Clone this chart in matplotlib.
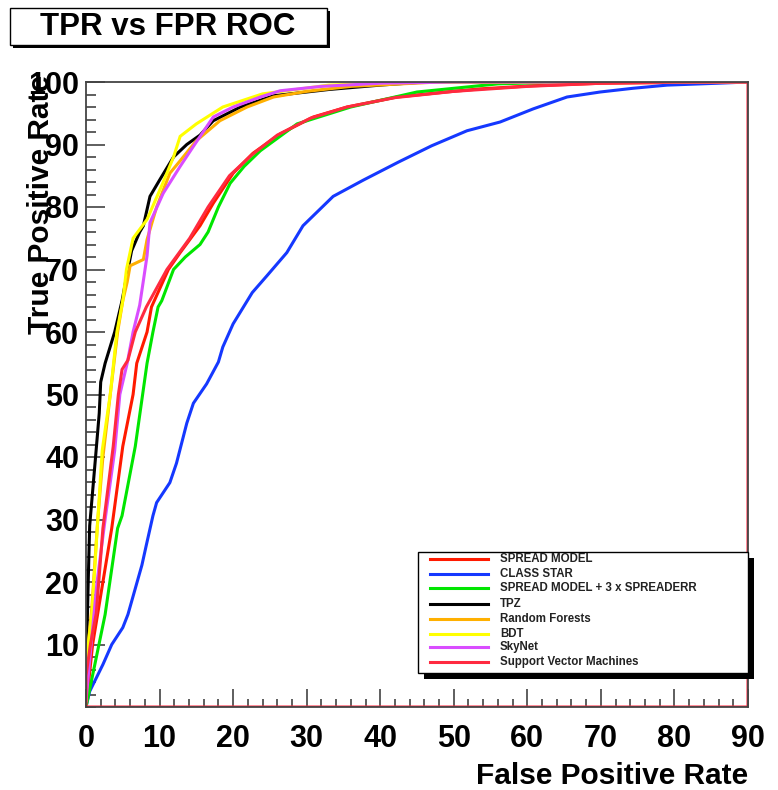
import matplotlib
matplotlib.use("Agg")
import matplotlib.pyplot as plt
from matplotlib import font_manager
from matplotlib.patches import Rectangle
from matplotlib.lines import Line2D
from matplotlib.ticker import MultipleLocator

# ROC curves (FPR, TPR in percent)
spread_fpr = [0, 0.9, 1.6, 3.5, 5.0, 6.4, 6.9, 8.3, 8.9, 11.2, 12.8, 15.5, 17.3, 20.0, 22.7,
              26.4, 30.9, 35.5, 42.3, 49.0, 53.6, 60.8, 70.0, 90]
spread_tpr = [0, 10, 15, 28.6, 41.7, 50, 55, 60, 64, 70, 72.7, 77, 80.6, 85.4, 88.6,
              91.7, 94.4, 96, 97.6, 98.4, 98.9, 99.4, 99.8, 100]

star_fpr = [0, 0.5, 2.3, 3.5, 5.0, 5.7, 7.6, 8.2, 9.1, 9.6, 11.4, 12.3, 13.7, 14.6, 16.4,
            18.0, 18.6, 20.0, 22.6, 24.6, 27.3, 29.5, 33.6, 37.7, 42.5, 47.0, 51.8, 56.3,
            60.8, 65.4, 69.9, 74.4, 79.0, 85.8, 90]
star_tpr = [0, 2.5, 6.8, 10, 12.7, 14.8, 22.7, 25.9, 30.6, 32.7, 35.9, 39, 45.4, 48.6, 51.7,
            55.2, 57.6, 61.3, 66.3, 69, 72.7, 77, 81.7, 84.3, 87.2, 89.8, 92.2, 93.6,
            95.7, 97.6, 98.4, 99.0, 99.5, 99.8, 100]

spreaderr_fpr = [0, 1.2, 2.6, 4.3, 4.9, 6.7, 8.3, 9.1, 9.8, 10.3, 11.9, 13.5, 15.5, 16.6,
                 18.0, 19.6, 21.5, 23.7, 28.7, 36.0, 45.0, 56.0, 65.0, 90]
spreaderr_tpr = [0, 6.8, 14.8, 28.6, 30.6, 41.7, 55, 60, 64, 65, 70, 72, 74, 76,
                 80, 83.8, 86.5, 89, 93.3, 96, 98.4, 99.7, 100, 100]

tpz_fpr = [0, 0.1, 0.3, 0.5, 1.3, 1.8, 2.0, 2.6, 3.9, 4.9, 5.7, 6.2, 7.3, 7.8, 8.7, 10.0,
           11.9, 13.7, 15.5, 17.3, 21.0, 25.5, 33.0, 40.0, 46.0, 90]
tpz_tpr = [1, 10, 20, 29, 40, 47, 52, 55, 60, 65, 70, 73, 76, 77, 81.7, 84.3,
           88, 90, 91.5, 93.8, 96, 97.8, 98.8, 99.5, 100, 100]

rf_fpr = [0, 0.3, 0.8, 1.6, 2.3, 3.3, 4.3, 5.0, 5.6, 6.0, 7.8, 8.3, 9.6, 11.4, 12.8, 15.0,
          18.2, 21.9, 25.5, 30.0, 36.0, 48.0, 90]
rf_tpr = [1, 10, 16, 30, 40, 50, 60, 65, 68, 70.6, 71.6, 74.8, 80, 85.4, 87.4, 90.6,
          93.8, 96, 97.6, 98.5, 99.3, 100, 100]

bdt_fpr = [0, 0.3, 0.8, 1.5, 2.2, 2.8, 3.3, 4.2, 5.0, 5.5, 6.4, 8.3, 10.5, 11.9, 12.8,
           15.0, 18.6, 24.0, 33.0, 45.0, 90]
bdt_tpr = [1, 10, 15, 28, 41, 46, 50, 60, 65, 70, 75, 78, 84, 88, 91.3,
           93.3, 96, 98.1, 99.5, 100, 100]

skynet_fpr = [0, 0.7, 1.5, 2.6, 3.9, 4.6, 5.6, 6.4, 7.3, 7.9, 8.3, 8.7, 10.5, 12.8, 14.6,
              17.3, 20.0, 23.7, 26.4, 32.0, 40.0, 50.0, 90]
skynet_tpr = [1, 10, 20, 30, 41, 50, 55, 60, 64.3, 69, 72.2, 77.5, 82.2, 86.5, 89.7,
              94.4, 96, 97.6, 98.6, 99.3, 99.8, 100, 100]

svm_fpr = [0, 0, 0.6, 1.4, 2.3, 3.7, 4.4, 4.9, 5.7, 6.7, 8.2, 11.0, 14.1, 16.6, 19.5, 22.5,
           26.0, 30.5, 35.5, 42.0, 50.0, 60.0, 70.0, 80.0, 90, 90, 0]
svm_tpr = [0, 5, 10, 15, 28.6, 41.7, 50, 54, 55.5, 60, 64, 70, 75, 80, 85, 88.3,
           91.5, 94.2, 96, 97.5, 98.5, 99.3, 99.8, 100, 100, 0, 0]

labels = ["SPREAD MODEL", "CLASS STAR", "SPREAD MODEL + 3 x SPREADERR", "TPZ",
          "Random Forests", "BDT", "SkyNet", "Support Vector Machines"]
colors = ["#ff1a00", "#1538ff", "#00e600", "#000000",
          "#ffb000", "#ffff00", "#d94dff", "#ff2a40"]
curves = [(spread_fpr, spread_tpr), (star_fpr, star_tpr), (spreaderr_fpr, spreaderr_tpr),
          (tpz_fpr, tpz_tpr), (rf_fpr, rf_tpr), (bdt_fpr, bdt_tpr),
          (skynet_fpr, skynet_tpr), (svm_fpr, svm_tpr)]

x_ticks = [0, 10, 20, 30, 40, 50, 60, 70, 80, 90]
y_ticks = [10, 20, 30, 40, 50, 60, 70, 80, 90, 100]

W, H = 778, 790
names = {f.name for f in font_manager.fontManager.ttflist}
tick_family = "Liberation Sans Narrow" if "Liberation Sans Narrow" in names else "Liberation Sans"
plt.rcParams["font.family"] = ["Liberation Sans", "DejaVu Sans"]


def fx(px):
    return px / W


def fy(py):
    return 1 - py / H


fig = plt.figure(figsize=(W / 100, H / 100), dpi=100)
ax = fig.add_axes([fx(86), fy(707), (748 - 86) / W, (707 - 82) / H])

for (x, y), c in zip(curves, colors):
    ax.plot(x, y, color=c, lw=2.2, solid_joinstyle="miter")

ax.set_xlim(0, 90)
ax.set_ylim(0, 100)
ax.set_xticks(x_ticks, [str(t) for t in x_ticks], fontsize=22, fontweight="bold",
              family=tick_family)
ax.set_yticks(y_ticks, [str(t) for t in y_ticks], fontsize=22, fontweight="bold",
              family=tick_family)
ax.xaxis.set_minor_locator(MultipleLocator(2))
ax.yaxis.set_minor_locator(MultipleLocator(2))
ax.tick_params(axis="x", which="major", direction="in", length=13, width=1.1,
               color="#333333", pad=12)
ax.tick_params(axis="x", which="minor", direction="in", length=6, width=1.1, color="#333333")
ax.tick_params(axis="y", which="major", direction="in", length=14, width=1.1,
               color="#333333", pad=5)
ax.tick_params(axis="y", which="minor", direction="in", length=7, width=1.1, color="#333333")
for s in ax.spines.values():
    s.set_color("#444444")
    s.set_linewidth(1.3)

# axis titles, ROOT style (right / top aligned)
fig.text(fx(748), fy(776), "False Positive Rate", ha="right", va="center",
         fontsize=21.5, fontweight="bold")
fig.text(fx(41), fy(75), "True Positive Rate", ha="center", va="top", rotation=90,
         fontsize=21.5, fontweight="bold")

# title box with shadow
fig.add_artist(Rectangle((fx(13), fy(48)), (327 - 10) / W, (45 - 8) / H,
                         transform=fig.transFigure, facecolor="black", edgecolor="none"))
fig.add_artist(Rectangle((fx(10), fy(45)), (327 - 10) / W, (45 - 8) / H,
                         transform=fig.transFigure, facecolor="white", edgecolor="black", lw=1))
fig.text(fx(168), fy(27), "TPR vs FPR ROC", ha="center", va="center",
         fontsize=22.5, fontweight="bold")

# legend box with shadow
lx0, ly0, lx1, ly1 = 418, 552, 748, 673
fig.add_artist(Rectangle((fx(lx0 + 6), fy(ly1 + 6)), (lx1 - lx0) / W, (ly1 - ly0) / H,
                         transform=fig.transFigure, facecolor="black", edgecolor="none"))
fig.add_artist(Rectangle((fx(lx0), fy(ly1)), (lx1 - lx0) / W, (ly1 - ly0) / H,
                         transform=fig.transFigure, facecolor="white", edgecolor="black", lw=1))
entry_y = [559, 574, 588, 604, 619, 634, 647, 662]
for lab, c, py in zip(labels, colors, entry_y):
    fig.add_artist(Line2D([fx(430), fx(488)], [fy(py), fy(py)], transform=fig.transFigure,
                          color=c, lw=2.2))
    fig.text(fx(500), fy(py), lab, ha="left", va="center", fontsize=8.3,
             fontweight="bold", color="#222222")

fig.savefig("out.png", dpi=100)
